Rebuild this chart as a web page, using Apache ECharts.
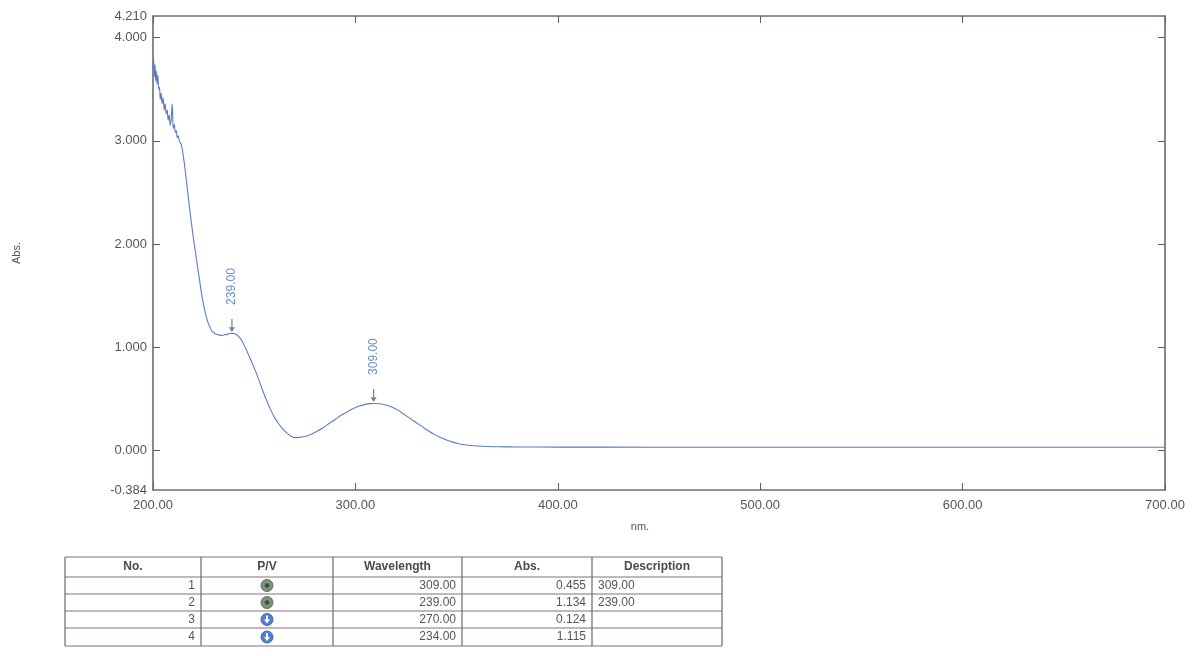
<!DOCTYPE html>
<html>
<head>
<meta charset="utf-8">
<script src="https://cdn.jsdelivr.net/npm/echarts@6/dist/echarts.min.js"></script>
<style>
  html, body { margin: 0; padding: 0; background: #ffffff; }
  #chart { width: 1195px; height: 656px; }
</style>
</head>
<body>
<div id="chart"></div>
<script>
// UV-Vis absorption spectrum, 200-700 nm
const wavelengths = [
  200.0, 200.3, 200.6, 201.0, 201.3, 201.6, 202.0, 202.4, 202.8, 203.2,
  203.6, 204.0, 204.5, 205.0, 205.5, 206.0, 206.5, 207.0, 207.5, 208.0,
  208.5, 209.0, 209.5, 210.0, 210.5, 211.0, 211.5, 212.0, 212.5, 213.0,
  214, 215, 216, 217, 218, 219, 220, 221, 222, 223,
  224, 225, 226, 227, 228, 229, 230, 232, 234, 236,
  238, 239, 240, 242, 244, 246, 248, 250, 252, 254,
  256, 258, 260, 262, 264, 266, 268, 270, 272, 275,
  278, 281, 284, 287, 290, 293, 296, 299, 302, 305,
  307, 309, 312, 315, 318, 321, 324, 327, 330, 333,
  336, 339, 342, 345, 348, 351, 354, 357, 360, 365,
  370, 380, 400, 450, 500, 550, 600, 650, 700
];
const absorbance = [
  3.70, 3.80, 3.62, 3.74, 3.58, 3.68, 3.55, 3.64, 3.50, 3.52,
  3.40, 3.46, 3.36, 3.42, 3.30, 3.36, 3.26, 3.30, 3.20, 3.25,
  3.15, 3.22, 3.36, 3.12, 3.16, 3.08, 3.10, 3.03, 3.05, 3.00,
  2.96, 2.85, 2.70, 2.53, 2.36, 2.20, 2.05, 1.92, 1.78, 1.65,
  1.52, 1.41, 1.32, 1.25, 1.20, 1.16, 1.14, 1.12, 1.115, 1.122,
  1.132, 1.134, 1.132, 1.11, 1.06, 0.98, 0.89, 0.80, 0.70, 0.59,
  0.49, 0.40, 0.32, 0.26, 0.21, 0.17, 0.14, 0.124, 0.126, 0.135,
  0.155, 0.185, 0.22, 0.26, 0.30, 0.34, 0.375, 0.405, 0.43, 0.446,
  0.453, 0.455, 0.452, 0.44, 0.42, 0.39, 0.35, 0.31, 0.27, 0.23,
  0.19, 0.155, 0.125, 0.10, 0.08, 0.065, 0.055, 0.047, 0.042, 0.037,
  0.035, 0.033, 0.032, 0.031, 0.031, 0.030, 0.030, 0.030, 0.030
];

// Axis labels
const xTickValues = [200, 300, 400, 500, 600, 700];
const yLabelValues = [-0.384, 0, 1, 2, 3, 4, 4.21];
const yTickValues = [0, 1, 2, 3, 4];

// Peak / valley table
const rowNo = [1, 2, 3, 4];
const rowType = ['P', 'P', 'V', 'V'];
const rowNm = [309.00, 239.00, 270.00, 234.00];
const rowAbs = [0.455, 1.134, 0.124, 1.115];
const rowDesc = ['309.00', '239.00', '', ''];
const tableHeaders = ['No.', 'P/V', 'Wavelength', 'Abs.', 'Description'];

const curveData = wavelengths.map((w, i) => [w, absorbance[i]]);
const peakData = rowNo
  .map((n, i) => i)
  .filter(i => rowType[i] === 'P')
  .map(i => ({ value: [rowNm[i], rowAbs[i]], desc: rowDesc[i] }));

// ---- table built as graphic elements ----
const colX = [65, 201, 333, 462, 592, 722];
const rowY = [557, 577, 594, 611, 628, 646];
const lineColor = '#6a6a6a';
const textColor = '#555555';
const tableFont = '12px "Liberation Sans", Arial, sans-serif';
const tableGraphics = [];

// horizontal rules
rowY.forEach((y, r) => {
  tableGraphics.push({
    type: 'line', silent: true,
    shape: { x1: colX[0], y1: y, x2: colX[colX.length - 1], y2: y },
    style: { stroke: r === 0 || r === rowY.length - 1 ? '#777777' : '#8a6f7a', lineWidth: 1.2 }
  });
});
// vertical rules
colX.forEach(x => {
  tableGraphics.push({
    type: 'line', silent: true,
    shape: { x1: x, y1: rowY[0], x2: x, y2: rowY[rowY.length - 1] },
    style: { stroke: lineColor, lineWidth: 1.2 }
  });
});
// header
tableHeaders.forEach((h, c) => {
  tableGraphics.push({
    type: 'text', silent: true,
    x: (colX[c] + colX[c + 1]) / 2, y: (rowY[0] + rowY[1]) / 2,
    style: {
      text: h, align: 'center', verticalAlign: 'middle',
      font: 'bold 12px "Liberation Sans", Arial, sans-serif', fill: '#4a4a4a'
    }
  });
});
// body rows
rowNo.forEach((n, r) => {
  const cy = (rowY[r + 1] + rowY[r + 2]) / 2;
  tableGraphics.push({
    type: 'text', silent: true, x: colX[1] - 6, y: cy,
    style: { text: String(n), align: 'right', verticalAlign: 'middle', font: tableFont, fill: textColor }
  });
  const cx = (colX[1] + colX[2]) / 2;
  if (rowType[r] === 'P') {
    tableGraphics.push({
      type: 'circle', silent: true, shape: { cx: cx, cy: cy, r: 6 },
      style: { fill: '#7d927d', stroke: '#5f735f', lineWidth: 1 }
    });
    tableGraphics.push({
      type: 'circle', silent: true, shape: { cx: cx, cy: cy, r: 2.2 },
      style: { fill: '#3d4a3d' }
    });
  } else {
    tableGraphics.push({
      type: 'circle', silent: true, shape: { cx: cx, cy: cy, r: 6 },
      style: { fill: '#4f7fd0', stroke: '#3e68b0', lineWidth: 1 }
    });
    tableGraphics.push({
      type: 'polygon', silent: true,
      shape: { points: [[cx - 1, cy - 4], [cx + 1, cy - 4], [cx + 1, cy], [cx + 3, cy], [cx, cy + 4], [cx - 3, cy], [cx - 1, cy]] },
      style: { fill: '#ffffff' }
    });
  }
  tableGraphics.push({
    type: 'text', silent: true, x: colX[3] - 6, y: cy,
    style: { text: rowNm[r].toFixed(2), align: 'right', verticalAlign: 'middle', font: tableFont, fill: textColor }
  });
  tableGraphics.push({
    type: 'text', silent: true, x: colX[4] - 6, y: cy,
    style: { text: rowAbs[r].toFixed(3), align: 'right', verticalAlign: 'middle', font: tableFont, fill: textColor }
  });
  if (rowDesc[r]) {
    tableGraphics.push({
      type: 'text', silent: true, x: colX[4] + 6, y: cy,
      style: { text: rowDesc[r], align: 'left', verticalAlign: 'middle', font: tableFont, fill: textColor }
    });
  }
});

const axisColor = '#5f5f6a';
const labelStyle = { color: '#555555', fontSize: 13, fontFamily: '"Liberation Sans", Arial, sans-serif' };

const chart = echarts.init(document.getElementById('chart'), null, { renderer: 'canvas' });
chart.setOption({
  animation: false,
  backgroundColor: '#ffffff',
  grid: { left: 153, right: 30, top: 16, bottom: 166, containLabel: false },
  xAxis: [
    {
      type: 'value', position: 'bottom', min: 200, max: 700, interval: 100,
      name: 'nm.', nameLocation: 'middle', nameGap: 31,
      nameTextStyle: { color: '#555555', fontSize: 11, fontFamily: '"Liberation Sans", Arial, sans-serif', padding: [0, 38, 0, 0] },
      axisLine: { show: true, onZero: false, lineStyle: { color: '#6a6a88', width: 1.5 } },
      axisTick: { show: true, inside: true, length: 7, customValues: xTickValues, lineStyle: { color: axisColor } },
      axisLabel: { ...labelStyle, margin: 9, customValues: xTickValues, formatter: v => v.toFixed(2) },
      splitLine: { show: false }
    },
    {
      type: 'value', position: 'top', min: 200, max: 700, interval: 100,
      axisLine: { show: true, onZero: false, lineStyle: { color: '#6a6a88', width: 1.5 } },
      axisTick: { show: true, inside: true, length: 7, customValues: xTickValues, lineStyle: { color: axisColor } },
      axisLabel: { show: false },
      splitLine: { show: false }
    }
  ],
  yAxis: [
    {
      type: 'value', position: 'left', min: -0.384, max: 4.21,
      name: 'Abs.', nameLocation: 'middle', nameGap: 131, nameRotate: 90,
      nameTextStyle: { color: '#555555', fontSize: 11, fontFamily: '"Liberation Sans", Arial, sans-serif' },
      axisLine: { show: true, onZero: false, lineStyle: { color: axisColor, width: 1.5 } },
      axisTick: { show: true, inside: true, length: 7, customValues: yTickValues, lineStyle: { color: axisColor } },
      axisLabel: { ...labelStyle, margin: 6, customValues: yLabelValues, formatter: v => v.toFixed(3) },
      splitLine: { show: false }
    },
    {
      type: 'value', position: 'right', min: -0.384, max: 4.21,
      axisLine: { show: true, onZero: false, lineStyle: { color: axisColor, width: 1.5 } },
      axisTick: { show: true, inside: true, length: 7, customValues: yTickValues, lineStyle: { color: axisColor } },
      axisLabel: { show: false },
      splitLine: { show: false }
    }
  ],
  series: [
    {
      name: 'Spectrum', type: 'line', xAxisIndex: 0, yAxisIndex: 0,
      data: curveData, showSymbol: false, smooth: 0.3,
      lineStyle: { color: '#5b7cc4', width: 1.1 },
      z: 3
    },
    {
      name: 'Peaks', type: 'scatter', xAxisIndex: 0, yAxisIndex: 0,
      data: peakData,
      symbol: 'path://M2.4,0 L3.6,0 L3.6,9 L6,9 L3,14 L0,9 L2.4,9 Z',
      symbolSize: [6, 13], symbolOffset: [0, -8],
      itemStyle: { color: '#55607a' },
      label: {
        show: true, position: 'top', distance: 14, rotate: 90,
        align: 'left', verticalAlign: 'middle',
        formatter: p => p.data.desc,
        color: '#4a6fb8', fontSize: 12, fontFamily: '"Liberation Sans", Arial, sans-serif'
      },
      z: 4
    }
  ],
  graphic: tableGraphics
});
</script>
</body>
</html>
